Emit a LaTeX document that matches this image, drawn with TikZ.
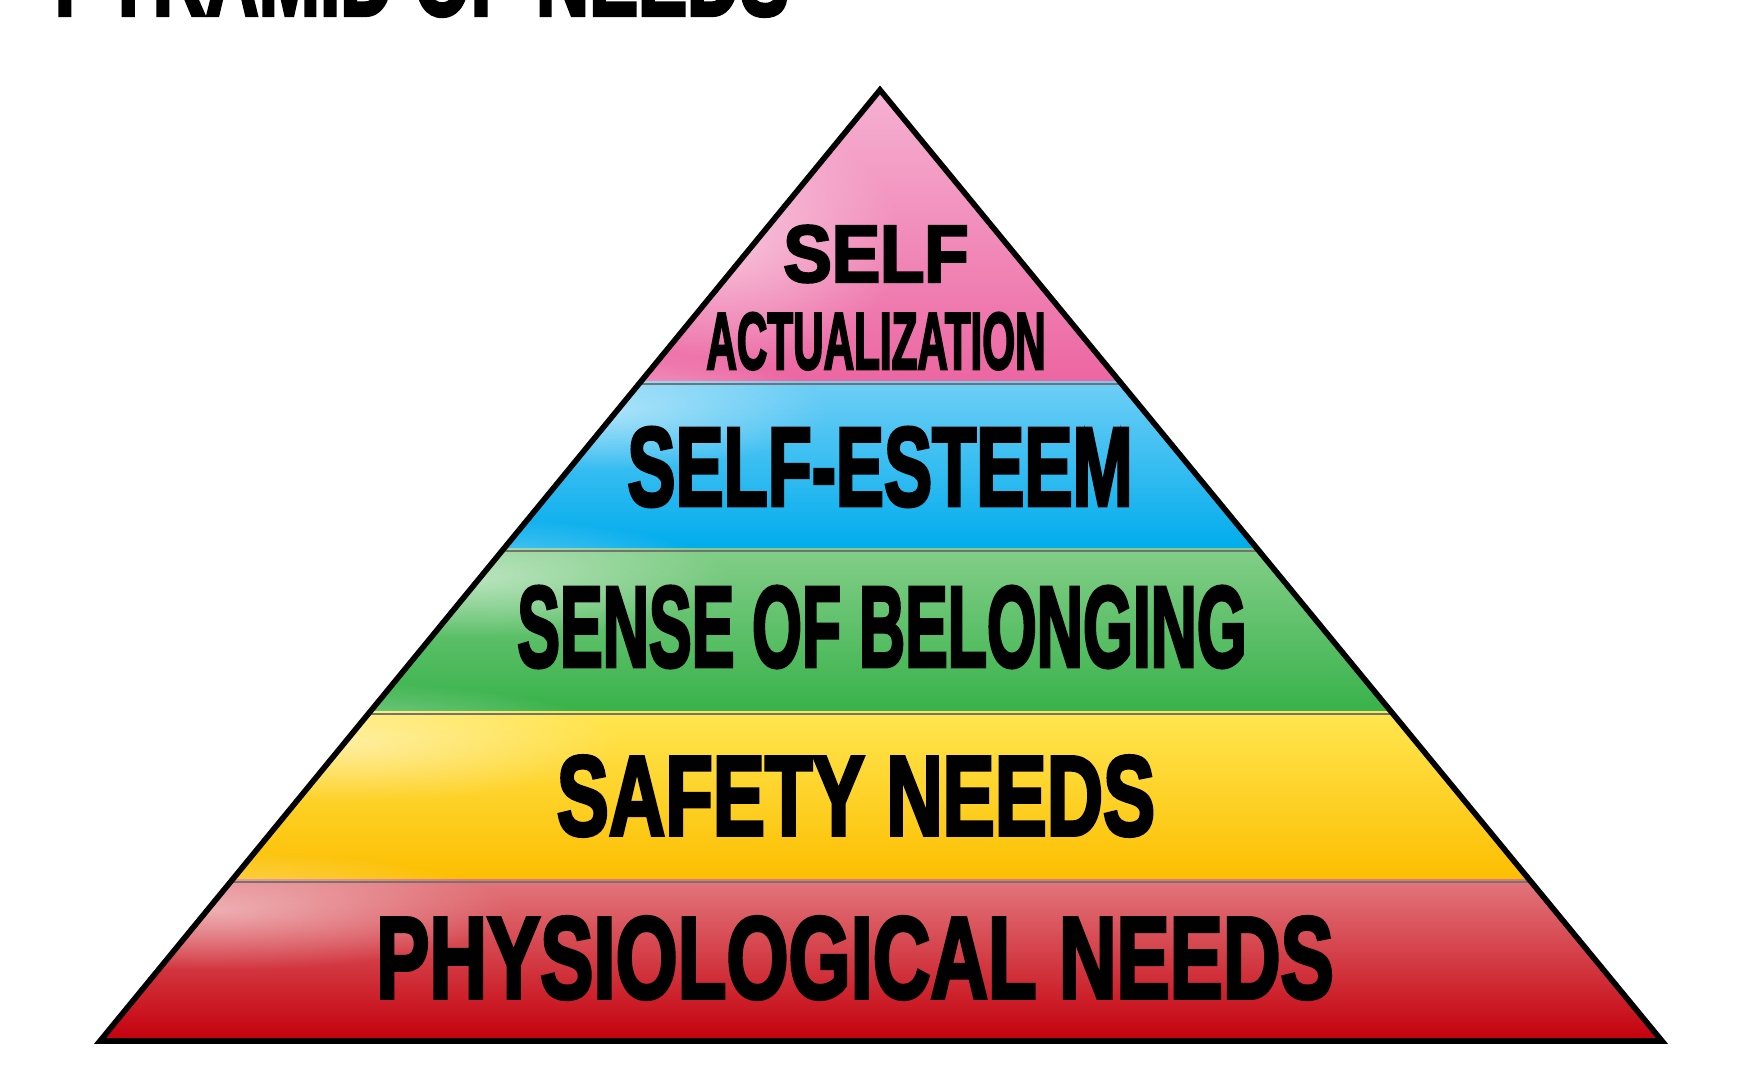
\documentclass[tikz,border=0pt]{standalone}
\usepackage{fontspec}
\usepackage{graphicx}
\usetikzlibrary{positioning, calc, fadings}
\newfontfamily\impactfont[FakeBold=3.5]{Liberation Sans}
\definecolor{pyrpink}{RGB}{236, 102, 162}
\definecolor{pyrpinklt}{RGB}{246, 178, 210}
\definecolor{pyrblue}{RGB}{0, 172, 236}
\definecolor{pyrbluelt}{RGB}{110, 206, 246}
\definecolor{pyrgreen}{RGB}{56, 178, 74}
\definecolor{pyrgreenlt}{RGB}{130, 206, 136}
\definecolor{pyryellow}{RGB}{252, 190, 0}
\definecolor{pyryellowlt}{RGB}{255, 230, 80}
\definecolor{pyrred}{RGB}{196, 0, 12}
\definecolor{pyrredlt}{RGB}{226, 118, 124}
\tikzfading[name=glowfade, inner color=transparent!0, outer color=transparent!100]
\newcommand{\bandtext}[3]{\resizebox{#1}{#2}{\impactfont\bfseries #3}}

\begin{document}
\begin{tikzpicture}[x=0.01cm, y=-0.01cm]
\tikzstyle{bandlabel} = [inner sep=0pt, anchor=center]
\tikzstyle{outline} = [line width=1.6pt, line join=miter, draw=black]
\tikzstyle{divider} = [line width=0.8pt, draw=black!55]
\tikzstyle{gloss} = [white, opacity=0.5, path fading=glowfade]

\useasboundingbox (0,0) rectangle (1760,1080);
\clip (0,0) rectangle (1760,1080);

\coordinate (apex) at (880,90);
\coordinate (baseL) at (100,1041);
\coordinate (baseR) at (1662,1041);

% bands
\begin{scope}
\clip (apex) -- (baseR) -- (baseL) -- cycle;
\shade[top color=pyrpinklt, bottom color=pyrpink] (0,88) rectangle (1760,382);
\shade[top color=pyrbluelt, bottom color=pyrblue] (0,382) rectangle (1760,549);
\shade[top color=pyrgreenlt, bottom color=pyrgreen] (0,549) rectangle (1760,712);
\shade[top color=pyryellowlt, bottom color=pyryellow] (0,712) rectangle (1760,880);
\shade[top color=pyrredlt, bottom color=pyrred] (0,880) rectangle (1760,1041);
\fill[gloss] (720,240) ellipse [x radius=180, y radius=130];
\fill[gloss] (600,410) ellipse [x radius=230, y radius=60];
\fill[gloss] (470,578) ellipse [x radius=260, y radius=60];
\fill[gloss] (340,742) ellipse [x radius=280, y radius=60];
\fill[gloss] (210,910) ellipse [x radius=300, y radius=60];
\end{scope}

\foreach \t in {0.3092, 0.4848, 0.6562, 0.8328}
  \draw[divider] ($(apex)!\t!(baseL)$) -- ($(apex)!\t!(baseR)$);

\draw[outline] (apex) -- (baseR) -- (baseL) -- cycle;

% texts
\node (title) [inner sep=0pt, anchor=south west] at (54,17) {\bandtext{7.34cm}{0.75cm}{PYRAMID OF NEEDS}};
\node (selfA) [bandlabel] at (876,254) {\bandtext{1.85cm}{0.56cm}{SELF}};
\node (actual) [bandlabel, below=0.29cm of selfA] {\bandtext{3.39cm}{0.56cm}{ACTUALIZATION}};
\node (esteem) [bandlabel] at (880,467) {\bandtext{5.05cm}{0.78cm}{SELF-ESTEEM}};
\node (belong) [bandlabel] at (882,627) {\bandtext{7.29cm}{0.80cm}{SENSE OF BELONGING}};
\node (safety) [bandlabel] at (856,796) {\bandtext{5.98cm}{0.79cm}{SAFETY NEEDS}};
\node (physio) [bandlabel] at (855,958) {\bandtext{9.57cm}{0.81cm}{PHYSIOLOGICAL NEEDS}};
\end{tikzpicture}
\end{document}
